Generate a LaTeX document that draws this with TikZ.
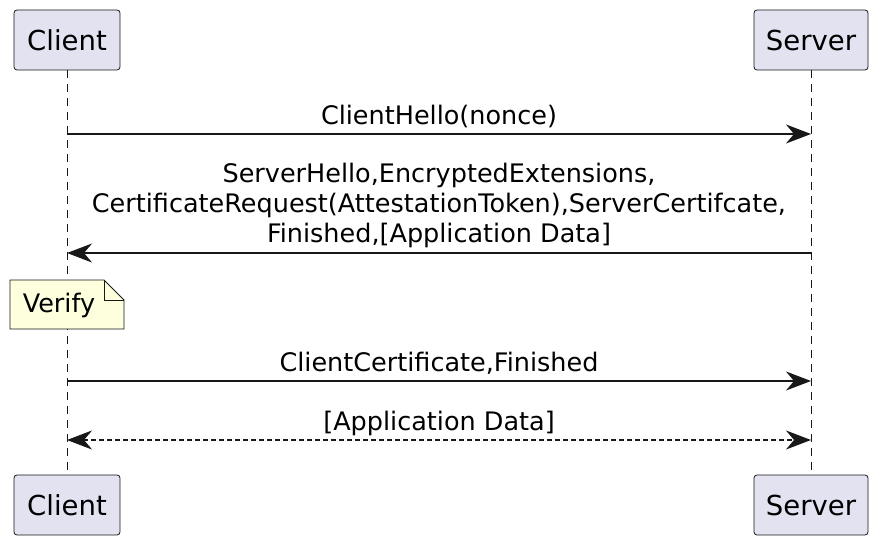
\documentclass[tikz,border=0pt]{standalone}
\usepackage{fontspec}
\setmainfont{DejaVu Sans}
\usetikzlibrary{positioning,arrows.meta,calc}
\definecolor{actorbg}{HTML}{E2E2F0}
\definecolor{notebg}{HTML}{FEFFDD}
\definecolor{ink}{HTML}{181818}
\begin{document}
\begin{tikzpicture}[x=1pt,y=-1pt]
    \tikzstyle{actor}=[draw=ink,fill=actorbg,rounded corners=3,minimum width=106,minimum height=60,inner sep=0,line width=0.8,font=\fontsize{27.5}{31}\selectfont]
    \tikzstyle{note}=[draw=none,inner sep=0,font=\fontsize{25.5}{30}\selectfont]
    \tikzstyle{label}=[note,above=2.5pt,text height=19pt,text depth=6pt]
    \tikzstyle{life}=[draw=ink,line width=0.9,dash pattern=on 8pt off 6pt]
    \tikzstyle{msg}=[draw=ink,line width=1.5,-{Stealth[length=25pt,width=19pt,inset=8pt]}]
    \tikzstyle{reply}=[msg,{Stealth[length=25pt,width=19pt,inset=8pt]}-{Stealth[length=25pt,width=19pt,inset=8pt]},dash pattern=on 5pt off 3pt]
    {
        \useasboundingbox (0,0) rectangle (879,545);

        % participants
        \node[actor] (clienttop) at (67,40) {Client};
        \node[actor,minimum width=114] (servertop) at (811,40) {Server};
        \node[actor] (clientbot) at (67,505) {Client};
        \node[actor,minimum width=114] (serverbot) at (811,505) {Server};

        \draw[life] (clienttop) -- (clientbot);
        \draw[life] (servertop) -- (serverbot);

        % points on the lifelines
        \coordinate (c1) at (clienttop.south |- 0,134);
        \coordinate (s1) at (servertop.south |- 0,134);
        \coordinate (c2) at (clienttop.south |- 0,253);
        \coordinate (s2) at (servertop.south |- 0,253);
        \coordinate (c3) at (clienttop.south |- 0,381);
        \coordinate (s3) at (servertop.south |- 0,381);
        \coordinate (c4) at (clienttop.south |- 0,440);
        \coordinate (s4) at (servertop.south |- 0,440);

        \draw[msg] (c1) -- node[label] (hello) {ClientHello(nonce)} (s1);
        \draw[msg] (s2) -- node[note,above=4pt,align=center] (shello) {ServerHello,EncryptedExtensions,\\CertificateRequest(AttestationToken),ServerCertifcate,\\Finished,[Application Data]} (c2);

        % note
        \draw[draw=ink,fill=notebg,line width=0.8] (10,280) -- (104,280) -- (124,300) -- (124,329) -- (10,329) -- cycle;
        \draw[draw=ink,line width=0.8] (104,280) -- (104,300) -- (124,300);
        \node[note] (verify) at (59,305) {Verify};

        \draw[msg] (c3) -- node[label] (fin) {ClientCertificate,Finished} (s3);
        \draw[reply] (c4) -- node[label] (appdata) {[Application Data]} (s4);
    }
\end{tikzpicture}
\end{document}
